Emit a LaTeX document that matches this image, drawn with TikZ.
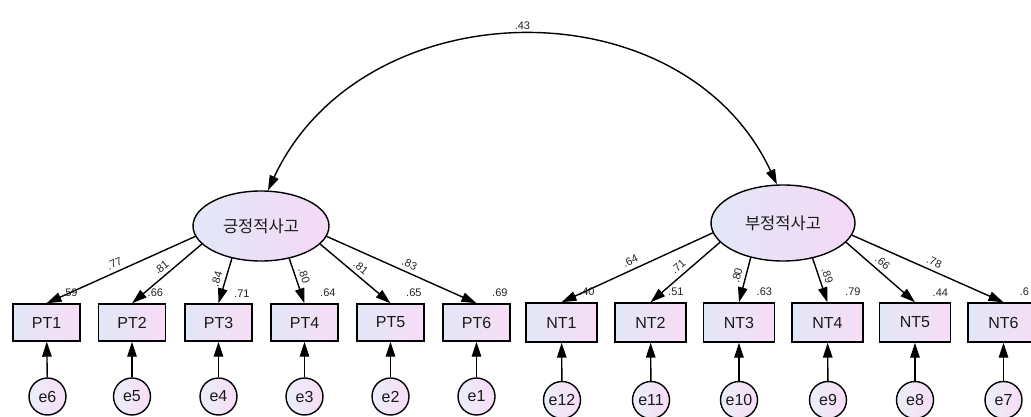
\documentclass[tikz,border=0pt]{standalone}
\usepackage{fontspec}
\setmainfont{Liberation Sans}
\newfontfamily\krfont{Noto Sans CJK KR}
\usetikzlibrary{arrows.meta,shapes.geometric}
\definecolor{boxL}{RGB}{226,231,246}
\definecolor{boxR}{RGB}{247,221,246}
\definecolor{ellL}{RGB}{226,231,247}
\definecolor{ellR}{RGB}{245,217,246}
\definecolor{txt}{RGB}{25,25,25}
\definecolor{lab}{RGB}{35,35,35}
\tikzset{
  obs/.style={draw=black, line width=1.4pt, minimum width=67pt, minimum height=37pt, inner sep=0pt,
    left color=boxL, right color=boxR, text=txt, font=\fontsize{16}{16}\selectfont},
  obsn/.style={obs, minimum width=71pt, minimum height=39pt},
  lat/.style={ellipse, draw=black, line width=1.4pt, inner sep=0pt, left color=ellL, right color=ellR,
    text=txt, font=\krfont\fontsize{16.5}{16.5}\selectfont},
  err/.style={circle, draw=black, line width=1.4pt, minimum size=37pt, inner sep=0pt,
    left color=boxL!70!white, right color=boxR, text=txt, font=\fontsize{16}{16}\selectfont},
  coef/.style={font=\fontsize{11}{11}\selectfont, inner sep=1pt, text=lab},
  rsq/.style={font=\fontsize{11}{11}\selectfont, inner sep=0pt, text=lab, anchor=south east},
  arr/.style={-{Triangle[length=15pt,width=9.5pt]}, line width=1.4pt},
  darr/.style={{Triangle[length=15pt,width=9.5pt]}-{Triangle[length=15pt,width=9.5pt]}, line width=1.4pt},
}
\begin{document}
\begin{tikzpicture}[x=1pt,y=-1pt]
\useasboundingbox (0,0) rectangle (1031,417);
% latent variables
\node[lat, minimum width=136pt, minimum height=70pt] (L) at (261,226) {긍정적사고};
\node[lat, minimum width=144pt, minimum height=76pt] (R) at (783,223) {부정적사고};
% covariance
\draw[darr] (L.79) to[out=65,in=115,looseness=1.12] node[coef, above=4pt, pos=0.5] {.43} (R.99);
% observed PT
\foreach \i/\x in {1/46.5,2/132,3/218.5,4/304.5,5/390.5,6/476.5}{
  \node[obs] (PT\i) at (\x,322.5) {PT\i};
}
\foreach \i/\x in {1/561.5,2/650.5,3/739,4/827.5,5/915,6/1003.5}{
  \node[obsn] (NT\i) at (\x,322.5) {NT\i};
}
% errors
\node[err] (e6) at (47.5,396.5) {e6};
\node[err] (e5) at (132,396.5) {e5};
\node[err] (e4) at (218.5,396.5) {e4};
\node[err] (e3) at (304.5,396.5) {e3};
\node[err] (e2) at (390.5,396.5) {e2};
\node[err] (e1) at (476.5,396.5) {e1};
\node[err] (e12) at (562,400) {e12};
\node[err] (e11) at (651,400) {e11};
\node[err] (e10) at (739,400) {e10};
\node[err] (e9) at (828,400) {e9};
\node[err] (e8) at (915,400) {e8};
\node[err] (e7) at (1003.5,400) {e7};
\foreach \e/\b in {e6/PT1,e5/PT2,e4/PT3,e3/PT4,e2/PT5,e1/PT6,e12/NT1,e11/NT2,e10/NT3,e9/NT4,e8/NT5,e7/NT6}{
  \draw[arr] (\e) -- (\b);
}
% loadings
\draw[arr] (L.189) -- node[coef, sloped, above=3pt, pos=0.52] {.77} (PT1.north);
\draw[arr] (L.197) -- node[coef, sloped, above=3pt, pos=0.5] {.81} (PT2.north);
\draw[arr] (L.228) -- node[coef, sloped, above=3pt, pos=0.52] {.84} (PT3.north);
\draw[arr] (L.311) -- node[coef, sloped, above=3pt, pos=0.45] {.80} (PT4.north);
\draw[arr] (L.343) -- node[coef, sloped, above=3pt, pos=0.5] {.81} (PT5.north);
\draw[arr] (L.351) -- node[coef, sloped, above=3pt, pos=0.53] {.83} (PT6.north);
\draw[arr] (R.188) -- node[coef, sloped, above=3pt, pos=0.52] {.64} (NT1.north);
\draw[arr] (R.197) -- node[coef, sloped, above=3pt, pos=0.52] {.71} (NT2.north);
\draw[arr] (R.227) -- node[coef, sloped, above=3pt, pos=0.45] {.80} (NT3.north);
\draw[arr] (R.310) -- node[coef, sloped, above=3pt, pos=0.45] {.89} (NT4.north);
\draw[arr] (R.343) -- node[coef, sloped, above=3pt, pos=0.45] {.66} (NT5.north);
\draw[arr] (R.350) -- node[coef, sloped, above=3pt, pos=0.52] {.78} (NT6.north);
% squared multiple correlations
\node[rsq] (r1) at ([xshift=-3pt,yshift=6pt]PT1.north east) {.59};
\node[rsq] (r2) at ([xshift=-3pt,yshift=6pt]PT2.north east) {.66};
\node[rsq] (r3) at ([xshift=-3pt,yshift=6pt]PT3.north east) {.71};
\node[rsq] (r4) at ([xshift=-3pt,yshift=6pt]PT4.north east) {.64};
\node[rsq] (r5) at ([xshift=-3pt,yshift=6pt]PT5.north east) {.65};
\node[rsq] (r6) at ([xshift=-3pt,yshift=6pt]PT6.north east) {.69};
\node[rsq] (r7) at ([xshift=-3pt,yshift=6pt]NT1.north east) {.40};
\node[rsq] (r8) at ([xshift=-3pt,yshift=6pt]NT2.north east) {.51};
\node[rsq] (r9) at ([xshift=-3pt,yshift=6pt]NT3.north east) {.63};
\node[rsq] (r10) at ([xshift=-3pt,yshift=6pt]NT4.north east) {.79};
\node[rsq] (r11) at ([xshift=-3pt,yshift=6pt]NT5.north east) {.44};
\node[rsq, anchor=south west] (r12) at ([xshift=-20pt,yshift=6pt]NT6.north east) {.6};
\end{tikzpicture}
\end{document}
